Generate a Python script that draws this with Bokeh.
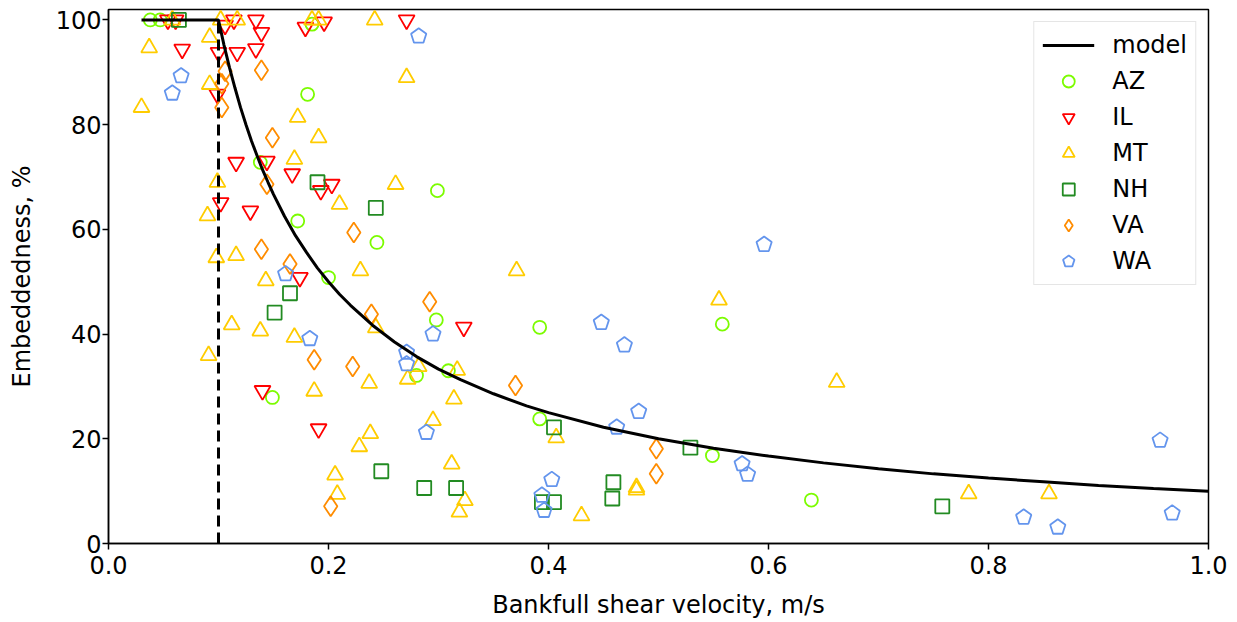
from bokeh.plotting import figure
from bokeh.models import Legend, LegendItem, Range1d, NumeralTickFormatter, FixedTicker
from bokeh.embed import file_html
from bokeh.resources import INLINE

# model curve
model_x = [0.03, 0.1, 0.105, 0.11, 0.115, 0.12, 0.125, 0.13, 0.135, 0.14, 0.145, 0.15, 0.16,
           0.17, 0.18, 0.19, 0.2, 0.21, 0.22, 0.24, 0.26, 0.28, 0.3, 0.32, 0.35, 0.38, 0.4,
           0.45, 0.5, 0.55, 0.6, 0.65, 0.7, 0.75, 0.8, 0.85, 0.9, 0.95, 1.0]
model_y = [100, 100, 95.2, 90.9, 87.0, 83.3, 80.0, 76.9, 74.1, 71.4, 69.0, 66.7, 62.5,
           58.8, 55.6, 52.6, 50.0, 47.6, 45.5, 41.7, 38.5, 35.7, 33.3, 31.3, 28.6, 26.3, 25.0,
           22.2, 20.0, 18.2, 16.7, 15.4, 14.3, 13.3, 12.5, 11.8, 11.1, 10.5, 10.0]
threshold_x = [0.1, 0.1]
threshold_y = [0, 100]

az_x = [0.038, 0.047, 0.185, 0.181, 0.138, 0.172, 0.299, 0.244, 0.2, 0.298, 0.392,
        0.280, 0.309, 0.149, 0.392, 0.558, 0.549, 0.639]
az_y = [100, 100, 99.2, 85.8, 72.8, 61.6, 67.4, 57.5, 50.8, 42.7, 41.3,
        32.1, 33.0, 27.9, 23.8, 41.9, 16.8, 8.3]

il_x = [0.054, 0.061, 0.067, 0.106, 0.114, 0.134, 0.139, 0.1, 0.117, 0.134, 0.099, 0.102,
        0.129, 0.116, 0.144, 0.167, 0.193, 0.203, 0.174, 0.140, 0.191, 0.179, 0.196,
        0.271, 0.323]
il_y = [100, 100, 94.4, 99.0, 100, 100, 97.6, 93.8, 93.8, 94.5, 85.8, 65.1,
        63.5, 72.8, 73.0, 70.6, 67.4, 68.6, 50.8, 29.2, 21.9, 98.6, 99.6,
        100, 41.3]

mt_x = [0.030, 0.037, 0.058, 0.092, 0.092, 0.102, 0.117, 0.090, 0.098, 0.116, 0.099,
        0.172, 0.169, 0.191, 0.210, 0.185, 0.191, 0.242, 0.271, 0.261, 0.229, 0.371,
        0.143, 0.112, 0.138, 0.169, 0.091, 0.187, 0.243, 0.282, 0.272, 0.317, 0.237,
        0.314, 0.295, 0.238, 0.228, 0.312, 0.206, 0.208, 0.324, 0.319, 0.407, 0.480,
        0.480, 0.430, 0.555, 0.662, 0.782, 0.855]
mt_y = [83.3, 94.7, 100, 96.7, 87.7, 100, 100, 62.6, 54.6, 55.0, 69.0,
        81.4, 73.4, 77.5, 64.8, 100, 100, 100, 89.0, 68.6, 52.1, 52.1,
        50.2, 41.8, 40.6, 39.4, 35.9, 29.1, 41.2, 33.8, 31.4, 33.1, 30.6,
        27.6, 23.5, 21.0, 18.5, 15.2, 13.1, 9.4, 8.2, 6.0, 20.2, 10.7,
        10.2, 5.3, 46.5, 30.8, 9.5, 9.5]

nh_x = [0.064, 0.190, 0.243, 0.165, 0.151, 0.405, 0.248, 0.287, 0.316, 0.394, 0.405,
        0.459, 0.458, 0.529, 0.758]
nh_y = [100, 69.0, 64.1, 47.8, 44.1, 22.2, 13.8, 10.6, 10.6, 7.9, 7.9,
        11.7, 8.6, 18.3, 7.1]

va_x = [0.106, 0.103, 0.139, 0.103, 0.149, 0.144, 0.139, 0.165, 0.223, 0.292, 0.239,
        0.187, 0.222, 0.370, 0.202, 0.498, 0.498]
va_y = [90.2, 87.8, 90.4, 83.3, 77.5, 68.6, 56.2, 53.4, 59.4, 46.2, 43.8,
        35.1, 33.8, 30.2, 7.1, 18.1, 13.3]

wa_x = [0.066, 0.058, 0.282, 0.161, 0.183, 0.295, 0.271, 0.271, 0.289, 0.403, 0.394,
        0.396, 0.596, 0.448, 0.469, 0.482, 0.462, 0.576, 0.581, 0.956, 0.967, 0.832, 0.863]
wa_y = [89.3, 86.0, 96.9, 51.5, 39.1, 40.0, 36.5, 34.3, 21.2, 12.2, 9.2,
        6.3, 57.1, 42.2, 37.9, 25.2, 22.2, 15.2, 13.2, 19.7, 5.8, 5.0, 3.1]

x_ticks = [0.0, 0.2, 0.4, 0.6, 0.8, 1.0]
y_ticks = [0, 20, 40, 60, 80, 100]

FONT = "DejaVu Sans"
FS = "24px"

p = figure(width=1230, height=621, output_backend="svg", toolbar_location=None,
           x_range=Range1d(0, 1.0), y_range=Range1d(0, 102),
           min_border_left=108, min_border_right=22, min_border_top=9, min_border_bottom=78)
p.grid.visible = False
p.background_fill_color = "white"
p.border_fill_color = "white"
p.outline_line_color = "black"
p.outline_line_width = 1.5
p.outline_line_alpha = 1.0

p.xaxis.ticker = FixedTicker(ticks=x_ticks)
p.yaxis.ticker = FixedTicker(ticks=y_ticks)
p.xaxis.formatter = NumeralTickFormatter(format="0.0")
p.xaxis.axis_label = "Bankfull shear velocity, m/s"
p.yaxis.axis_label = "Embeddedness, %"
for ax in (p.xaxis, p.yaxis):
    ax.axis_line_width = 1.5
    ax.major_tick_line_width = 1.5
    ax.major_tick_out = 6
    ax.major_tick_in = 0
    ax.minor_tick_out = 0
    ax.minor_tick_in = 0
    ax.major_label_text_font = FONT
    ax.major_label_text_font_size = FS
    ax.major_label_text_color = "black"
    ax.axis_label_text_font = FONT
    ax.axis_label_text_font_size = FS
    ax.axis_label_text_font_style = "normal"
    ax.axis_label_text_color = "black"
p.xaxis.major_label_standoff = 6
p.yaxis.major_label_standoff = 1
p.xaxis.axis_label_standoff = 14
p.yaxis.axis_label_standoff = 17

LW = 1.8
r_az = p.scatter(az_x, az_y, marker="circle", size=13, fill_color=None,
                 line_color="#7CFC00", line_width=LW)
r_il = p.scatter(il_x, il_y, marker="inverted_triangle", size=16, fill_color=None,
                 line_color="#FF0000", line_width=LW)
r_mt = p.scatter(mt_x, mt_y, marker="triangle", size=16, fill_color=None,
                 line_color="#FFCC00", line_width=LW)
r_nh = p.scatter(nh_x, nh_y, marker="square", size=14, fill_color=None,
                 line_color="#228B22", line_width=LW)
r_va = p.scatter(va_x, va_y, marker="diamond", size=20, fill_color=None,
                 line_color="#FF8C00", line_width=LW)
r_wa = p.ngon(wa_x, wa_y, radius=8, radius_units="screen", n=5, fill_color=None,
              line_color="#6495ED", line_width=LW)

r_model = p.line(model_x, model_y, line_color="black", line_width=3)
p.line(threshold_x, threshold_y, line_color="black", line_width=3, line_dash="11 6")

legend = Legend(items=[
    LegendItem(label="model", renderers=[r_model]),
    LegendItem(label="AZ", renderers=[r_az]),
    LegendItem(label="IL", renderers=[r_il]),
    LegendItem(label="MT", renderers=[r_mt]),
    LegendItem(label="NH", renderers=[r_nh]),
    LegendItem(label="VA", renderers=[r_va]),
    LegendItem(label="WA", renderers=[r_wa]),
], location="top_right")
legend.label_text_font = FONT
legend.label_text_font_size = FS
legend.label_text_color = "black"
legend.glyph_width = 52
legend.glyph_height = 30
legend.spacing = 6
legend.label_standoff = 18
legend.padding = 8
legend.margin = 12
legend.border_line_color = "#cccccc"
legend.border_line_width = 1.5
legend.background_fill_alpha = 0.9
p.add_layout(legend, "center")

open("out.html", "w").write(file_html(p, INLINE))
